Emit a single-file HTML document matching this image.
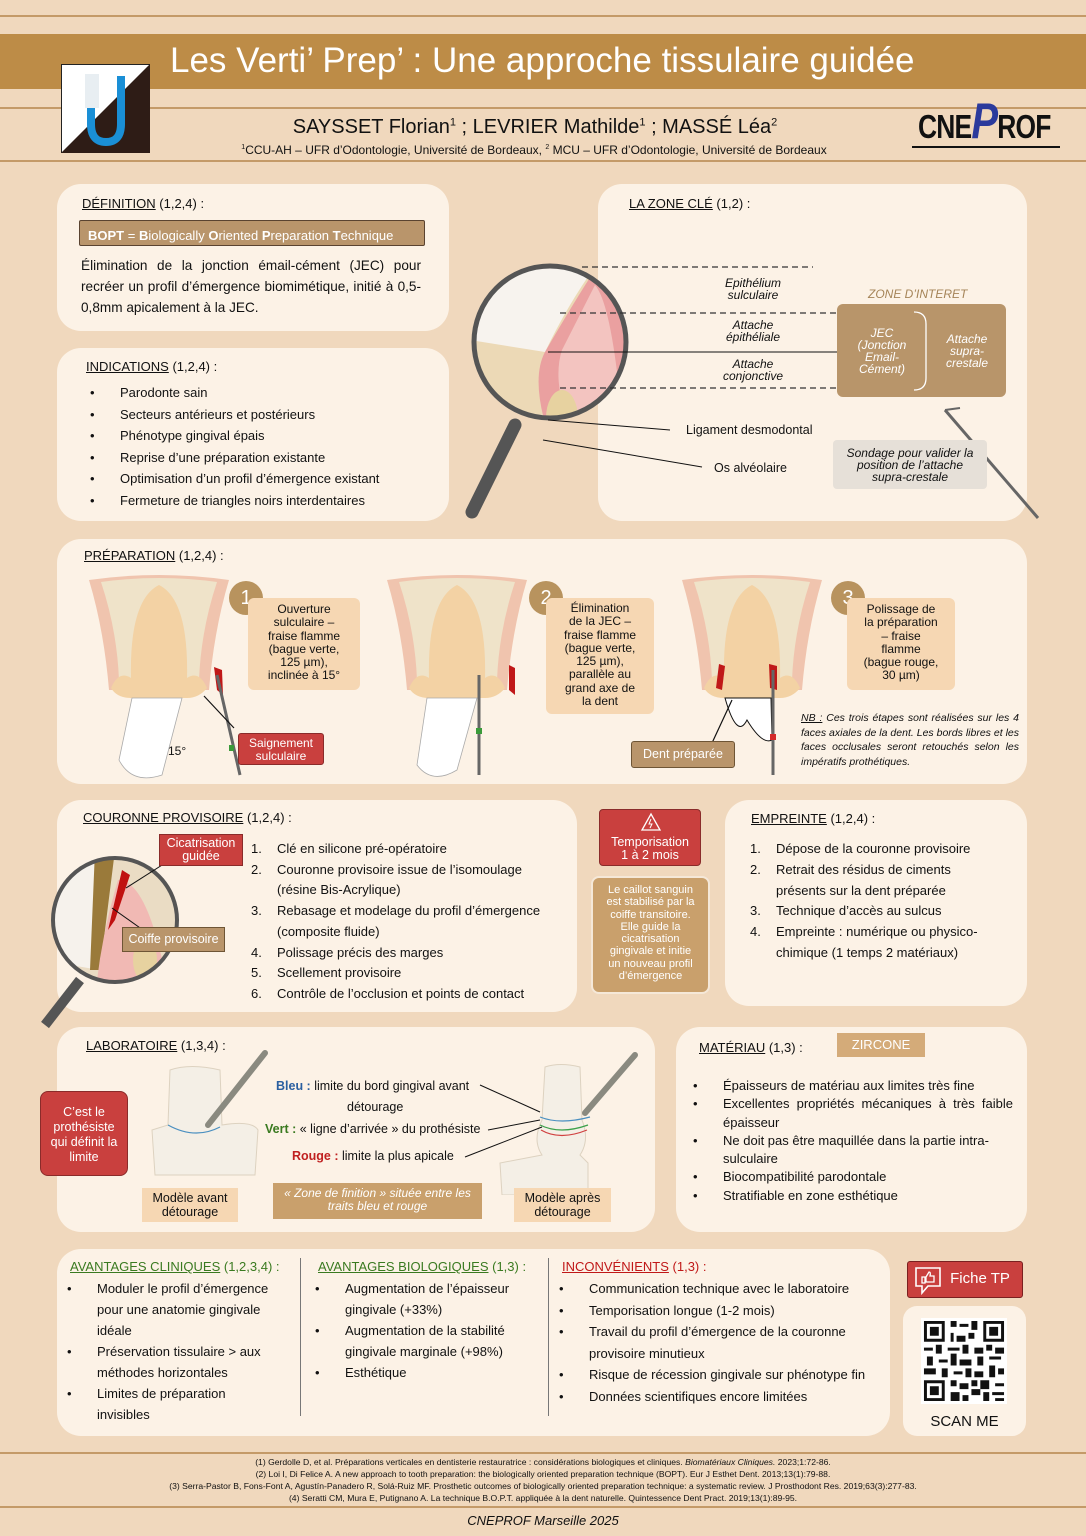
<!DOCTYPE html>
<html><head><meta charset="utf-8"><style>
*{margin:0;padding:0;box-sizing:border-box}
body{width:1086px;height:1536px;background:#f0d8bd;position:relative;overflow:hidden;font-family:"Liberation Sans",sans-serif;color:#111}
.a{position:absolute}
.card{position:absolute;background:#fcf2e6;border-radius:24px}
.h{font-size:13px}
.h u{text-decoration:underline}
.tan{background:#c9a06c;color:#fff;text-align:center}
.peach{background:#f6d7b3;text-align:center;color:#111}
.red{background:#c9403e;color:#fff;text-align:center;border:1px solid #8a2b2a}
ul.b{list-style:none}
ul.b li{position:relative;padding-left:34px}
ul.b li:before{content:"•";position:absolute;left:4px}
ol.n{list-style:none}
ol.n li{position:relative;padding-left:26px}
ol.n li span{position:absolute;left:0}
.it{font-style:italic}
</style></head><body>

<!-- header -->
<div class="a" style="left:0;top:15px;width:1086px;height:2px;background:#c49a68"></div>
<div class="a" style="left:0;top:34px;width:1086px;height:55px;background:#bd8c47"></div>
<div class="a" style="left:0;top:107px;width:1086px;height:2px;background:#c49a68"></div>
<div class="a" style="left:0;top:160px;width:1086px;height:2px;background:#c49a68"></div>
<div class="a" style="left:170px;top:41px;font-size:35px;color:#fff;white-space:nowrap">Les Verti’ Prep’ : Une approche tissulaire guidée</div>
<svg class="a" style="left:61px;top:64px" width="89" height="89" viewBox="0 0 89 89">
<rect x="0.5" y="0.5" width="88" height="88" fill="#fff" stroke="#222"/>
<polygon points="89,0 89,89 0,89" fill="#2e1c16"/>
<path d="M30 12 L30 60 Q30 78 45 78 Q60 78 60 60 L60 12" fill="none" stroke="#1a8fd6" stroke-width="8"/>
<rect x="24" y="10" width="14" height="34" fill="#e8eef2"/>
</svg>
<div class="a" style="left:0;width:1086px;top:116px;text-align:center;font-size:20px;white-space:nowrap"><span style="margin-left:-16px">SAYSSET Florian<sup style="font-size:11px">1</sup> ; LEVRIER Mathilde<sup style="font-size:11px">1</sup> ; MASSÉ Léa<sup style="font-size:11px">2</sup></span></div>
<div class="a" style="left:0;width:1086px;top:143px;text-align:center;font-size:12px;white-space:nowrap"><span style="margin-left:-18px"><sup style="font-size:7px">1</sup>CCU-AH – UFR d’Odontologie, Université de Bordeaux, <sup style="font-size:7px">2</sup> MCU – UFR d’Odontologie, Université de Bordeaux</span></div>
<div class="a" style="left:918px;top:108px;font-size:33px;font-weight:bold;letter-spacing:-1px;transform:scaleX(0.8);transform-origin:left;white-space:nowrap">CNE<span style="color:#2b3a9c;font-style:italic;font-size:50px;line-height:0">P</span>ROF</div>
<div class="a" style="left:912px;top:146px;width:148px;height:2px;background:#111"></div>

<!-- Definition -->
<div class="card" style="left:57px;top:184px;width:392px;height:147px"></div>
<div class="a h" style="left:82px;top:196px"><u>DÉFINITION</u> (1,2,4) :</div>
<div class="a" style="left:79px;top:220px;width:346px;height:26px;background:#b9956b;border:1px solid #5a4330;border-radius:2px;color:#fff;font-size:13px;padding:7px 0 0 8px;white-space:nowrap"><b>BOPT</b> = <b>B</b>iologically <b>O</b>riented <b>P</b>reparation <b>T</b>echnique</div>
<div class="a" style="left:81px;top:255px;width:340px;font-size:13.6px;line-height:21px;text-align:justify">Élimination de la jonction émail-cément (JEC) pour recréer un profil d’émergence biomimétique, initié à 0,5-0,8mm apicalement à la JEC.</div>

<!-- Indications -->
<div class="card" style="left:57px;top:348px;width:392px;height:173px"></div>
<div class="a h" style="left:86px;top:359px"><u>INDICATIONS</u> (1,2,4) :</div>
<ul class="b a" style="left:86px;top:382px;font-size:13px;line-height:21.6px">
<li>Parodonte sain</li><li>Secteurs antérieurs et postérieurs</li><li>Phénotype gingival épais</li><li>Reprise d’une préparation existante</li><li>Optimisation d’un profil d’émergence existant</li><li>Fermeture de triangles noirs interdentaires</li></ul>

<!-- Zone clé -->
<div class="card" style="left:598px;top:184px;width:429px;height:337px"></div>
<div class="a h" style="left:629px;top:196px"><u>LA ZONE CLÉ</u> (1,2) :</div>
<svg class="a" style="left:440px;top:230px" width="600" height="300" viewBox="440 230 600 300">
<defs><clipPath id="c1"><circle cx="550" cy="342" r="76"/></clipPath></defs>
<line x1="515" y1="425" x2="472" y2="512" stroke="#555" stroke-width="13" stroke-linecap="round"/>
<g clip-path="url(#c1)">
<rect x="470" y="260" width="160" height="170" fill="#ecd9b6"/>
<path d="M470 260 L600 260 Q570 300 545 352 L470 340Z" fill="#f7f3ee"/>
<path d="M600 262 Q640 265 640 430 L550 440 Q530 380 545 352 Q575 300 600 262Z" fill="#eaa0a0"/>
<path d="M595 285 Q612 305 622 420 L570 430 Q552 380 562 350Z" fill="#f3c4c0"/>
<ellipse cx="562" cy="418" rx="16" ry="28" fill="#e7d2a0"/>
</g>
<circle cx="550" cy="342" r="76" fill="none" stroke="#555" stroke-width="5"/>
<g stroke="#333" stroke-width="1.2" stroke-dasharray="6,4" fill="none">
<line x1="582" y1="267" x2="813" y2="267"/><line x1="560" y1="313" x2="900" y2="313"/><line x1="560" y1="388" x2="900" y2="388"/></g>
<line x1="548" y1="352" x2="838" y2="352" stroke="#111"/>
<line x1="548" y1="420" x2="670" y2="430" stroke="#111"/>
<line x1="543" y1="440" x2="702" y2="467" stroke="#111"/>
<line x1="945" y1="410" x2="1038" y2="518" stroke="#666" stroke-width="3"/>
<line x1="945" y1="410" x2="960" y2="408" stroke="#666" stroke-width="2"/>
</svg>
<div class="a it" style="left:700px;top:277px;width:106px;text-align:center;font-size:12px;line-height:12px">Epithélium<br>sulculaire</div>
<div class="a it" style="left:700px;top:319px;width:106px;text-align:center;font-size:12px;line-height:12px">Attache<br>épithéliale</div>
<div class="a it" style="left:700px;top:358px;width:106px;text-align:center;font-size:12px;line-height:12px">Attache<br>conjonctive</div>
<div class="a" style="left:686px;top:423px;font-size:12.5px">Ligament desmodontal</div>
<div class="a" style="left:714px;top:461px;font-size:12.5px">Os alvéolaire</div>
<div class="a it" style="left:868px;top:287px;font-size:12px;color:#a58458">ZONE D’INTERET</div>
<div class="a" style="left:837px;top:304px;width:169px;height:93px;background:#b8956a;border-radius:6px"></div>
<svg class="a" style="left:912px;top:310px" width="20" height="82"><path d="M2 2 Q14 2 14 14 L14 68 Q14 80 2 80" fill="none" stroke="#fff" stroke-width="1.3"/></svg>
<div class="a it" style="left:846px;top:327px;width:72px;text-align:center;color:#fff;font-size:12px;line-height:12px">JEC<br>(Jonction<br>Email-<br>Cément)</div>
<div class="a it" style="left:936px;top:333px;width:62px;text-align:center;color:#fff;font-size:12px;line-height:12px">Attache<br>supra-<br>crestale</div>
<div class="a it" style="left:833px;top:440px;width:154px;height:49px;background:#e6e0d8;border-radius:4px;text-align:center;font-size:12px;line-height:12px;padding-top:7px">Sondage pour valider la<br>position de l’attache<br>supra-crestale</div>

<!-- Préparation -->
<div class="card" style="left:57px;top:539px;width:970px;height:245px"></div>
<div class="a h" style="left:84px;top:548px"><u>PRÉPARATION</u> (1,2,4) :</div>
<svg class="a" style="left:57px;top:570px" width="970" height="210">
<defs>
<g id="tooth">
<path d="M0 10 Q70 0 140 10 Q125 60 120 120 L20 120 Q15 60 0 10Z" fill="#f0c4ae"/>
<path d="M12 12 Q70 4 128 12 Q112 60 110 110 L30 110 Q28 60 12 12Z" fill="#efe3c9"/>
<path d="M42 110 Q40 30 70 15 Q100 30 98 110 Z" fill="#f3d2a4"/>
<path d="M22 118 Q30 100 42 108 L98 108 Q110 100 118 118 Q110 128 98 128 L42 128 Q28 128 22 118Z" fill="#f3d2a4"/>
</g>
</defs>
<use href="#tooth" x="32" y="0"/>
<path d="M75 128 L62 190 Q75 215 105 205 L125 128Z" fill="#fff" stroke="#aaa" stroke-width="0.8"/>
<path d="M157 97 L165 100 L166 125 L160 120Z" fill="#c01818"/>
<line x1="160" y1="105" x2="183" y2="205" stroke="#666" stroke-width="3"/>
<rect x="172" y="175" width="5" height="6" fill="#3a9a3a"/>
<line x1="177" y1="158" x2="147" y2="126" stroke="#111" stroke-width="1.2"/>
<use href="#tooth" x="330" y="0"/>
<path d="M370 128 L360 195 Q375 215 400 200 L420 128Z" fill="#fff" stroke="#aaa" stroke-width="0.8"/>
<path d="M452 95 L458 98 L458 125 L452 120Z" fill="#c01818"/>
<line x1="422" y1="105" x2="422" y2="205" stroke="#666" stroke-width="3"/>
<rect x="419" y="158" width="6" height="6" fill="#3a9a3a"/>
<use href="#tooth" x="625" y="0"/>
<path d="M668 128 Q680 170 690 150 Q705 175 715 170 L714 128Z" fill="#fff" stroke="#111" stroke-width="1"/>
<path d="M662 94 L668 96 L665 120 L659 118Z" fill="#c01818"/>
<path d="M712 94 L720 96 L720 120 L713 118Z" fill="#c01818"/>
<line x1="716" y1="100" x2="716" y2="205" stroke="#666" stroke-width="3"/>
<rect x="713" y="164" width="6" height="6" fill="#d42a2a"/>
<line x1="655" y1="173" x2="675" y2="130" stroke="#111" stroke-width="1.2"/>
</svg>
<div class="a" style="left:168px;top:744px;font-size:12px">15°</div>
<div class="a" style="left:229px;top:581px;width:34px;height:34px;border-radius:50%;background:#b8935e;color:#fff;font-size:20px;text-align:center;line-height:34px">1</div>
<div class="a" style="left:529px;top:581px;width:34px;height:34px;border-radius:50%;background:#b8935e;color:#fff;font-size:20px;text-align:center;line-height:34px">2</div>
<div class="a" style="left:831px;top:581px;width:34px;height:34px;border-radius:50%;background:#b8935e;color:#fff;font-size:20px;text-align:center;line-height:34px">3</div>
<div class="a peach" style="left:248px;top:598px;width:112px;height:92px;border-radius:6px;font-size:12px;line-height:13.3px;padding-top:5px">Ouverture<br>sulculaire –<br>fraise flamme<br>(bague verte,<br>125 µm),<br>inclinée à 15°</div>
<div class="a peach" style="left:546px;top:598px;width:108px;height:116px;border-radius:6px;font-size:12px;line-height:13.3px;padding-top:4px">Élimination<br>de la JEC –<br>fraise flamme<br>(bague verte,<br>125 µm),<br>parallèle au<br>grand axe de<br>la dent</div>
<div class="a peach" style="left:847px;top:598px;width:108px;height:92px;border-radius:6px;font-size:12px;line-height:13.3px;padding-top:5px">Polissage de<br>la préparation<br>– fraise<br>flamme<br>(bague rouge,<br>30 µm)</div>
<div class="a red" style="left:238px;top:733px;width:86px;height:32px;border-radius:3px;font-size:12px;line-height:13px;padding-top:3px">Saignement<br>sulculaire</div>
<div class="a tan" style="left:631px;top:741px;width:104px;height:27px;border-radius:3px;font-size:12.5px;line-height:25px;border:1px solid #6e5535;background:#b9956b">Dent préparée</div>
<div class="a it" style="left:801px;top:711px;width:218px;font-size:10.5px;line-height:14.5px;text-align:justify"><u>NB :</u> Ces trois étapes sont réalisées sur les 4 faces axiales de la dent. Les bords libres et les faces occlusales seront retouchés selon les impératifs prothétiques.</div>

<!-- Couronne provisoire -->
<div class="card" style="left:57px;top:800px;width:520px;height:212px"></div>
<div class="a h" style="left:83px;top:810px"><u>COURONNE PROVISOIRE</u> (1,2,4) :</div>
<svg class="a" style="left:40px;top:840px" width="200" height="190">
<defs><clipPath id="c2"><circle cx="75" cy="80" r="62"/></clipPath></defs>
<line x1="40" y1="140" x2="5" y2="185" stroke="#555" stroke-width="10"/>
<g clip-path="url(#c2)">
<rect x="0" y="0" width="160" height="160" fill="#eadcc4"/>
<path d="M0 20 L60 20 L60 130 L0 120Z" fill="#f6f2ec"/>
<path d="M55 10 L75 10 L70 50 L60 130 L50 130Z" fill="#9a7a3a"/>
<path d="M78 40 Q110 40 130 160 L55 160 Q60 100 78 40Z" fill="#f1b9b4"/>
<path d="M82 30 L90 35 L75 80 L68 90Z" fill="#c01010"/>
<ellipse cx="105" cy="120" rx="12" ry="22" fill="#e7d2a0"/>
</g>
<circle cx="75" cy="80" r="62" fill="none" stroke="#555" stroke-width="4"/>
<line x1="130" y1="20" x2="86" y2="48" stroke="#111"/><line x1="110" y1="95" x2="72" y2="68" stroke="#111"/>
</svg>
<div class="a red" style="left:159px;top:834px;width:84px;height:32px;font-size:12.5px;line-height:13px;padding-top:2px">Cicatrisation<br>guidée</div>
<div class="a tan" style="left:122px;top:927px;width:103px;height:25px;background:#b9956b;border:1px solid #6e5535;font-size:12.5px;line-height:23px">Coiffe provisoire</div>
<ol class="n a" style="left:251px;top:839px;font-size:13px;line-height:20.7px">
<li><span>1.</span>Clé en silicone pré-opératoire</li>
<li><span>2.</span>Couronne provisoire issue de l’isomoulage<br>(résine Bis-Acrylique)</li>
<li><span>3.</span>Rebasage et modelage du profil d’émergence<br>(composite fluide)</li>
<li><span>4.</span>Polissage précis des marges</li>
<li><span>5.</span>Scellement provisoire</li>
<li><span>6.</span>Contrôle de l’occlusion et points de contact</li></ol>

<!-- Temporisation -->
<div class="a red" style="left:599px;top:809px;width:102px;height:57px;border-radius:4px;font-size:12.5px;line-height:13px;padding-top:26px">Temporisation<br>1 à 2 mois</div>
<svg class="a" style="left:640px;top:812px" width="22" height="20"><path d="M11 2 L20 18 L2 18Z" fill="none" stroke="#fff" stroke-width="1.3"/><path d="M11 7 L9 12 L12 12 L10 16" fill="none" stroke="#fff"/></svg>
<div class="a tan" style="left:591px;top:876px;width:119px;height:118px;border-radius:8px;background:#c9a06c;border:2px solid #f5e8d8;font-size:11px;line-height:12.3px;padding-top:6px">Le caillot sanguin<br>est stabilisé par la<br>coiffe transitoire.<br>Elle guide la<br>cicatrisation<br>gingivale et initie<br>un nouveau profil<br>d’émergence</div>

<!-- Empreinte -->
<div class="card" style="left:725px;top:800px;width:302px;height:206px"></div>
<div class="a h" style="left:751px;top:811px"><u>EMPREINTE</u> (1,2,4) :</div>
<ol class="n a" style="left:750px;top:839px;font-size:13px;line-height:20.8px">
<li><span>1.</span>Dépose de la couronne provisoire</li>
<li><span>2.</span>Retrait des résidus de ciments<br>présents sur la dent préparée</li>
<li><span>3.</span>Technique d’accès au sulcus</li>
<li><span>4.</span>Empreinte : numérique ou physico-<br>chimique (1 temps 2 matériaux)</li></ol>

<!-- Laboratoire -->
<div class="card" style="left:57px;top:1027px;width:598px;height:205px"></div>
<div class="a h" style="left:86px;top:1038px"><u>LABORATOIRE</u> (1,3,4) :</div>
<div class="a red" style="left:40px;top:1091px;width:88px;height:85px;border-radius:8px;font-size:12.5px;line-height:15px;padding-top:13px">C’est le<br>prothésiste<br>qui définit la<br>limite</div>
<svg class="a" style="left:140px;top:1045px" width="520" height="150">
<path d="M30 25 Q50 18 80 25 L82 80 Q112 75 118 85 L115 130 L15 130 L12 85 L28 80Z" fill="#f4efe6" stroke="#ddd2c0"/>
<path d="M28 80 Q55 95 80 82" fill="none" stroke="#4a8fc0" stroke-width="1.2"/>
<line x1="68" y1="80" x2="125" y2="8" stroke="#8a8a80" stroke-width="6" stroke-linecap="round"/>
<path d="M405 22 Q420 17 440 22 L442 75 Q450 95 440 110 L448 118 L448 150 L362 150 L360 118 L402 110 Q392 95 402 75Z" fill="#f4efe6" stroke="#ddd2c0"/>
<path d="M400 72 Q420 80 450 72" fill="none" stroke="#4a8fc0" stroke-width="1.2"/>
<path d="M400 80 Q420 90 448 80" fill="none" stroke="#3aa04a" stroke-width="1.2"/>
<path d="M401 85 Q420 96 447 85" fill="none" stroke="#d04040" stroke-width="1.2"/>
<line x1="445" y1="68" x2="495" y2="10" stroke="#8a8a80" stroke-width="6" stroke-linecap="round"/>
<g stroke="#111" fill="none"><line x1="340" y1="40" x2="400" y2="67"/><line x1="348" y1="85" x2="400" y2="75"/><line x1="325" y1="112" x2="402" y2="82"/></g>
</svg>
<div class="a" style="left:276px;top:1079px;font-size:12.5px;white-space:nowrap"><b style="color:#2a5fa0">Bleu :</b> limite du bord gingival avant</div>
<div class="a" style="left:347px;top:1100px;font-size:12.5px">détourage</div>
<div class="a" style="left:265px;top:1122px;font-size:12.5px;white-space:nowrap"><b style="color:#3a7a20">Vert :</b> « ligne d’arrivée » du prothésiste</div>
<div class="a" style="left:292px;top:1149px;font-size:12.5px;white-space:nowrap"><b style="color:#c02020">Rouge :</b> limite la plus apicale</div>
<div class="a peach" style="left:142px;top:1188px;width:96px;height:34px;font-size:12.5px;line-height:14px;padding-top:3px">Modèle avant<br>détourage</div>
<div class="a tan it" style="left:273px;top:1183px;width:209px;height:36px;font-size:12px;line-height:13px;padding-top:4px;background:#c9a06c">« Zone de finition » située entre les<br>traits bleu et rouge</div>
<div class="a peach" style="left:514px;top:1188px;width:97px;height:34px;font-size:12.5px;line-height:14px;padding-top:3px">Modèle après<br>détourage</div>

<!-- Matériau -->
<div class="card" style="left:676px;top:1027px;width:351px;height:205px"></div>
<div class="a h" style="left:699px;top:1040px"><u>MATÉRIAU</u> (1,3) :</div>
<div class="a tan" style="left:837px;top:1033px;width:88px;height:24px;font-size:13px;line-height:24px;background:#d4ab79">ZIRCONE</div>
<ul class="b a" style="left:689px;top:1077px;width:324px;font-size:13px;line-height:18.3px">
<li>Épaisseurs de matériau aux limites très fine</li>
<li style="text-align:justify;text-align-last:left">Excellentes propriétés mécaniques à très faible épaisseur</li>
<li>Ne doit pas être maquillée dans la partie intra-sulculaire</li>
<li>Biocompatibilité parodontale</li>
<li>Stratifiable en zone esthétique</li></ul>

<!-- Bottom -->
<div class="card" style="left:57px;top:1249px;width:833px;height:187px"></div>
<div class="a" style="left:300px;top:1258px;width:1px;height:158px;background:#777"></div>
<div class="a" style="left:548px;top:1258px;width:1px;height:158px;background:#777"></div>
<div class="a h" style="left:70px;top:1259px;color:#3a7a20"><u>AVANTAGES CLINIQUES</u> (1,2,3,4) :</div>
<div class="a h" style="left:318px;top:1259px;color:#3a7a20"><u>AVANTAGES BIOLOGIQUES</u> (1,3) :</div>
<div class="a h" style="left:562px;top:1259px;color:#c01818"><u>INCONVÉNIENTS</u> (1,3) :</div>
<ul class="b a" style="left:63px;top:1278px;width:225px;font-size:13px;line-height:21px">
<li>Moduler le profil d’émergence pour une anatomie gingivale idéale</li>
<li>Préservation tissulaire &gt; aux méthodes horizontales</li>
<li>Limites de préparation<br>invisibles</li></ul>
<ul class="b a" style="left:311px;top:1278px;width:230px;font-size:13px;line-height:21px">
<li>Augmentation de l’épaisseur gingivale (+33%)</li>
<li>Augmentation de la stabilité gingivale marginale (+98%)</li>
<li>Esthétique</li></ul>
<ul class="b a" style="left:555px;top:1278px;width:340px;font-size:13px;line-height:21.5px">
<li>Communication technique avec le laboratoire</li>
<li>Temporisation longue (1-2 mois)</li>
<li>Travail du profil d’émergence de la couronne provisoire minutieux</li>
<li>Risque de récession gingivale sur phénotype fin</li>
<li>Données scientifiques encore limitées</li></ul>

<div class="a red" style="left:907px;top:1261px;width:116px;height:37px;border-radius:3px;border:1px solid #7a2020;font-size:15px;line-height:34px;padding-left:30px">Fiche TP</div>
<svg class="a" style="left:914px;top:1266px" width="30" height="30"><path d="M2 2 H26 V20 H14 L8 27 V20 H2Z" fill="none" stroke="#fff" stroke-width="1.6"/><path d="M8 11 H11 V17 H8Z M12 11 L15 6 Q17 6 16 10 H20 V16 H12Z" fill="none" stroke="#fff" stroke-width="1.3"/></svg>
<div class="card" style="left:903px;top:1306px;width:123px;height:130px;border-radius:14px"></div>
<svg class="a" style="left:921px;top:1318px" width="86" height="86" viewBox="0 0 29 29">
<rect width="29" height="29" fill="#fff"/>
<g fill="#111">
<path d="M1 1h7v7h-7zM2 2v5h5v-5zM3 3h3v3h-3z" fill-rule="evenodd"/>
<path d="M21 1h7v7h-7zM22 2v5h5v-5zM23 3h3v3h-3z" fill-rule="evenodd"/>
<path d="M1 21h7v7h-7zM2 22v5h5v-5zM3 23h3v3h-3z" fill-rule="evenodd"/>
<path d="M10 1h2v2h-2zM13 2h3v1h-3zM17 1h2v3h-2zM10 5h1v3h-1zM12 6h3v2h-3zM16 5h2v2h-2zM1 10h3v1h-3zM5 9h2v3h-2zM9 10h4v1h-4zM14 9h2v3h-2zM18 10h3v2h-3zM22 9h2v2h-2zM25 10h3v2h-3zM2 13h2v3h-2zM6 14h3v1h-3zM10 12h2v4h-2zM13 14h4v2h-4zM19 13h2v3h-2zM23 13h4v1h-4zM1 17h4v2h-4zM7 17h2v3h-2zM11 18h3v1h-3zM15 17h2v3h-2zM18 18h3v2h-3zM23 16h2v4h-2zM26 17h2v2h-2zM10 21h2v2h-2zM13 22h3v2h-3zM17 21h2v2h-2zM20 21h3v3h-3zM25 22h3v1h-3zM10 25h3v3h-3zM14 26h2v2h-2zM17 24h3v2h-3zM21 25h2v3h-2zM24 25h4v1h-4zM25 27h3v1h-3z"/>
</g></svg>
<div class="a" style="left:903px;top:1413px;width:123px;text-align:center;font-size:15px">SCAN ME</div>

<!-- refs -->
<div class="a" style="left:0;top:1452px;width:1086px;height:2px;background:#c49a68"></div>
<div class="a" style="left:0;top:1506px;width:1086px;height:2px;background:#c49a68"></div>
<div class="a" style="left:0;top:1456px;width:1086px;text-align:center;font-size:8.6px;line-height:12px;white-space:nowrap">
(1) Gerdolle D, et al. Préparations verticales en dentisterie restauratrice : considérations biologiques et cliniques. <i>Biomatériaux Cliniques.</i> 2023;1:72-86.<br>
(2) Loi I, Di Felice A. A new approach to tooth preparation: the biologically oriented preparation technique (BOPT). Eur J Esthet Dent. 2013;13(1):79-88.<br>
(3) Serra-Pastor B, Fons-Font A, Agustín-Panadero R, Solá-Ruiz MF. Prosthetic outcomes of biologically oriented preparation technique: a systematic review. J Prosthodont Res. 2019;63(3):277-83.<br>
(4) Seratti CM, Mura E, Putignano A. La technique B.O.P.T. appliquée à la dent naturelle. Quintessence Dent Pract. 2019;13(1):89-95.</div>
<div class="a it" style="left:0;top:1513px;width:1086px;text-align:center;font-size:13px">CNEPROF Marseille 2025</div>
</body></html>
